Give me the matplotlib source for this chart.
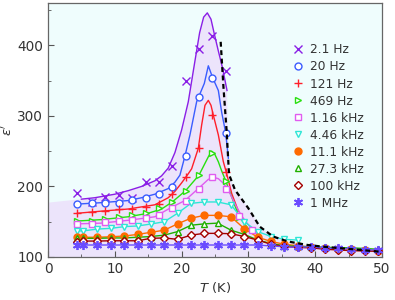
import numpy as np
import matplotlib
matplotlib.use("Agg")
import matplotlib.pyplot as plt
from matplotlib.lines import Line2D

# =========================================================
# DATA
# =========================================================
# temperatures of the low-frequency runs (2.1 Hz ... 1.16 kHz)
T_lo = [4.4, 6.6, 8.6, 10.6, 12.6, 14.6, 16.6, 18.6, 20.6, 22.6, 24.6, 26.6, 28.6, 30.6]
# temperatures of the high-frequency runs (4.46 kHz ... 1 MHz)
T_hi = [4.4, 5.3, 7.4, 9.4, 11.4, 13.4, 15.4, 17.4, 19.4, 21.4, 23.4, 25.4, 27.4,
        29.4, 31.4, 33.4, 35.4, 37.4, 39.4, 41.4, 43.4, 45.4, 47.4, 49.4]

eps_2hz = [191, 178, 184.5, 188, 183, 206, 206, 229, 349, 395, 413, 363]
eps_20hz = [175, 177, 177, 177, 180.6, 184, 189, 199, 243, 327, 354, 276]
eps_121hz = [162, 164, 165.5, 167.5, 168, 171, 175, 189, 214, 254, 301, 221]
eps_469hz = [151, 151.5, 154, 156, 159, 162, 169, 178, 194, 216, 248, 208, 157]
eps_1k16 = [146.7, 146.7, 149, 151, 152, 155, 159, 170, 180, 197, 213, 196, 158, 138]
eps_4k46 = [137, 137, 139.6, 140.6, 143, 144, 146.7, 150, 162, 176, 178, 178, 174,
            150, 136, 129, 125, 124]
eps_11k1 = [128, 128, 128, 128.7, 129.7, 132, 135, 138, 147, 155, 159, 159, 157,
            140, 128, 122, 118, 116, 114, 113, 112, 111, 110, 109]
eps_27k3 = [126.5, 126.5, 126.5, 127, 127, 128, 129, 131, 136, 145, 147, 148, 138,
            132, 124, 119, 116, 115, 114.5, 114, 113, 113, 112, 111]
eps_100k = [121.7, 122.6, 122.6, 123, 123, 123, 126.5, 127, 125, 131, 133.5, 133.5, 133,
            129, 124, 118, 115, 113.5, 113, 111, 110, 109, 108.5, 108]
eps_1m = [117, 117, 117, 117, 117, 117, 117, 117, 117, 117, 117, 117, 117,
          117, 117, 115.6, 114.6, 113.7, 114.6, 112.3, 112.3, 111.3, 110, 110]

# fitted curves drawn through the low-frequency data (T, eps' pairs)
fit_2hz_T = [5.0, 7.0, 10.0, 12.0, 14.0, 16.0, 17.0, 18.0, 19.0, 20.0, 21.0, 22.0,
             22.7, 23.3, 23.85, 24.4, 24.9, 25.5, 26.1, 26.8]
fit_2hz_e = [182, 184, 189, 194, 200, 208, 215, 226, 248, 280, 320, 378,
             418, 440, 446, 437, 416, 392, 369, 336]
fit_20hz_T = [4.4, 8.0, 12.0, 14.0, 16.0, 18.0, 19.0, 19.75, 20.5, 21.25, 22.25, 23.4,
              24.0, 24.65, 25.5, 26.0, 26.6, 27.0]
fit_20hz_e = [175, 177, 180, 184, 189, 197, 206, 216, 243, 273, 320, 346,
              371, 354, 336, 305, 276, 240]
fit_121hz_T = [4.4, 8.0, 12.0, 16.0, 18.0, 19.0, 20.0, 21.0, 21.5, 22.5, 23.0, 23.5,
               24.0, 24.4, 24.75, 25.5, 26.25, 26.75, 27.5, 28.5]
fit_121hz_e = [162, 165, 168, 174, 184, 193, 205, 218, 225, 254, 287, 315,
               322, 315, 301, 273, 235, 218, 190, 165]
fit_469hz_T = [4.4, 8.0, 12.0, 15.0, 17.0, 18.6, 20.6, 22.6, 24.0, 24.5, 25.0, 25.5,
               26.0, 26.6, 27.5, 28.6, 30.0]
fit_469hz_e = [151, 153, 157, 162, 168, 178, 194, 216, 242, 250, 245, 235,
               222, 208, 185, 157, 140]
fit_1k16_T = [4.4, 8.0, 12.0, 16.0, 18.4, 20.5, 22.5, 24.0, 24.75, 25.5, 26.2, 27.0,
              28.0, 29.0, 30.6, 32.0]
fit_1k16_e = [147, 148, 152, 157, 170, 180, 197, 210, 213, 211, 205, 195,
              175, 158, 138, 128]

# Curie-Weiss-like dashed guide
cw_T = [25.85, 26.25, 26.75, 27.1, 28.0, 30.0, 31.7, 33.7, 35.9, 38.9, 41.2, 45.0, 49.7]
cw_e = [405, 343, 277, 217, 195, 169, 143, 129, 122, 117, 114.6, 111.5, 107.5]

labels = ["2.1 Hz", "20 Hz", "121 Hz", "469 Hz", "1.16 kHz", "4.46 kHz",
          "11.1 kHz", "27.3 kHz", "100 kHz", "1 MHz"]

# =========================================================
# STYLE
# =========================================================
plt.rcParams.update({
    "font.family": "DejaVu Sans",
    "font.size": 8,
    "axes.linewidth": 0.9,
})

colors = ["#8a1fe6", "#3a5cff", "#ff1f2a", "#28e010", "#e05cf0",
          "#2ee6d6", "#ff6a00", "#1fb000", "#a30000", "#6a4cff"]
markers = ["x", "o", "+", ">", "s", "v", "o", "^", "D", (6, 2, 0)]
faces = ["none", "white", "none", "white", "white", "white", None, "white", "white", "none"]
sizes = [5.5, 5, 6, 5, 4.5, 5, 5, 5, 4.2, 6.5]

fig = plt.figure(figsize=(3.95, 3.0), dpi=100)
ax = fig.add_axes([48 / 395, 1 - 257 / 300, (382 - 48) / 395, (257 - 3) / 300])
ax.set_facecolor("#effdfd")

# lavender region under the envelope
env_T = [0, 3] + fit_2hz_T + cw_T[3:] + [50, 50, 0]
env_e = [177, 180] + fit_2hz_e + cw_e[3:] + [107, 100, 100]
ax.fill(env_T, env_e, color="#ece4fb", lw=0, zorder=0)

series = [
    (T_lo, eps_2hz, fit_2hz_T, fit_2hz_e),
    (T_lo, eps_20hz, fit_20hz_T, fit_20hz_e),
    (T_lo, eps_121hz, fit_121hz_T, fit_121hz_e),
    (T_lo, eps_469hz, fit_469hz_T, fit_469hz_e),
    (T_lo, eps_1k16, fit_1k16_T, fit_1k16_e),
    (T_hi, eps_4k46, None, None),
    (T_hi, eps_11k1, None, None),
    (T_hi, eps_27k3, None, None),
    (T_hi, eps_100k, None, None),
    (T_hi, eps_1m, None, None),
]

handles = []
for i, (tx, ey, ft, fe) in enumerate(series):
    c = colors[i]
    tx = tx[:len(ey)]
    if ft is not None:
        ax.plot(ft, fe, color=c, lw=1.0, zorder=2)
    else:
        ax.plot(tx, ey, color=c, lw=1.0, zorder=2)
    fc = c if faces[i] is None else faces[i]
    mew = 1.3 if i == 9 else 1.0
    ax.plot(tx, ey, ls="none", marker=markers[i], ms=sizes[i], mec=c, mfc=fc,
            mew=mew, zorder=3 + i * 0.01)
    handles.append(Line2D([], [], ls="none", marker=markers[i], ms=sizes[i],
                          mec=c, mfc=fc, mew=mew))

ax.plot(cw_T, cw_e, color="black", ls=(0, (2.2, 1.6)), lw=1.6, zorder=4)

ax.set_xlim(0, 50)
ax.set_ylim(100, 460)
ax.set_xticks([0, 10, 20, 30, 40, 50])
ax.set_xticks([5, 15, 25, 35, 45], minor=True)
ax.set_yticks([100, 200, 300, 400])
ax.set_yticks([150, 250, 350, 450], minor=True)
ax.tick_params(which="both", direction="in", colors="#555555", labelcolor="#333333",
               labelsize=9.8)
ax.tick_params(which="major", length=4)
ax.tick_params(which="minor", length=2.5)
for s in ax.spines.values():
    s.set_color("#666666")

ax.set_xlabel(r"$T$ (K)", fontsize=9.5, color="#333333", labelpad=3)
ax.set_ylabel(r"$\varepsilon'$", fontsize=9.5, color="#333333")
ax.yaxis.set_label_coords(-0.1, 0.5)

leg = ax.legend(handles, labels, loc="upper left", bbox_to_anchor=(0.72, 0.86),
                frameon=False, fontsize=8.8, handlelength=0.8, handletextpad=0.6,
                labelspacing=0.33, borderaxespad=0)
for t in leg.get_texts():
    t.set_color("#333333")

fig.savefig("out.png", dpi=100)
